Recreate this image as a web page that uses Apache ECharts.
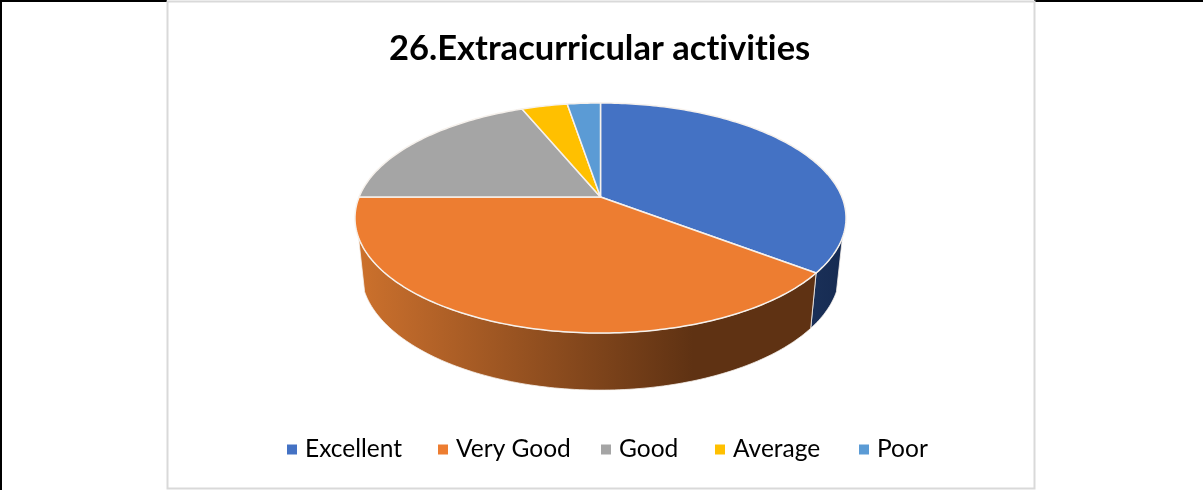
<!DOCTYPE html>
<html>
<head>
<meta charset="utf-8">
<style>html,body{margin:0;padding:0;background:#fff}#c{width:1203px;height:490px}</style>
<script src="https://cdn.jsdelivr.net/npm/echarts@6/dist/echarts.min.js"></script>
</head>
<body>
<div id="c"></div>
<script>
const categories = ['Excellent', 'Very Good', 'Good', 'Average', 'Poor'];
const values = [35.4, 39.6, 18.8, 3.6, 2.6];
const colors = ['#4472C4', '#ED7D31', '#A5A5A5', '#FFC000', '#5B9BD5'];
const legendLefts = [282, 433, 596, 710, 854];

const total = values.reduce((a, b) => a + b, 0);
const view = { cx: 600.5, cy: 197, rx: 241.4, ry: 111.2, k: -0.1826, floorY: 250, floorSx: 0.975, floorSy: 1.03 };
const wallLimit = { right: 110, left: 250 };

function topPoint(deg) {
  const t = deg * Math.PI / 180, u = Math.sin(t), v = -Math.cos(t), w = 1 + view.k * v;
  return [view.cx + view.rx * u / w, view.cy + view.ry * v / w];
}
function floorPoint(deg) {
  const p = topPoint(deg);
  return [view.cx + view.floorSx * (p[0] - view.cx), view.floorY + view.floorSy * (p[1] - view.cy)];
}
function arc(fn, a, b) {
  const pts = [], n = Math.max(2, Math.ceil(Math.abs(b - a)));
  for (let i = 0; i <= n; i++) pts.push(fn(a + (b - a) * i / n));
  return pts;
}
const wallFill = [
  { type: 'linear', x: 0, y: 0, x2: 1, y2: 0, colorStops: [{ offset: 0, color: '#1A3058' }, { offset: 1, color: '#162B52' }] },
  { type: 'linear', x: 0, y: 0, x2: 1, y2: 0, colorStops: [{ offset: 0, color: '#CC712C' }, { offset: 0.1, color: '#BD682A' }, { offset: 0.73, color: '#5F3213' }, { offset: 1, color: '#5F3213' }] }
];
function makeRender(idx) {
  return function (params, api) {
    const before = values.slice(0, idx).reduce((a, b) => a + b, 0);
    const a0 = before / total * 360;
    const a1 = a0 + api.value(0) / total * 360;
    const children = [{
      type: 'polygon', z2: 10,
      shape: { points: [[view.cx, view.cy]].concat(arc(topPoint, a0, a1)) },
      style: { fill: colors[idx], stroke: '#F6F1EC', lineWidth: 1.5, lineJoin: 'round' }
    }];
    if (idx < 2) {
      const wa = idx === 0 ? wallLimit.right : a0;
      const wb = idx === 1 ? wallLimit.left : a1;
      const top = arc(topPoint, wa, wb), floor = arc(floorPoint, wb, wa);
      children.unshift({
        type: 'polygon', z2: 1,
        shape: { points: top.concat(floor) },
        style: { fill: wallFill[idx], stroke: '#F6F1EC', lineWidth: 0.8 }
      });
    }
    return { type: 'group', children };
  };
}
const chart = echarts.init(document.getElementById('c'), null, { renderer: 'canvas' });
chart.setOption({
  animation: false,
  backgroundColor: '#fff',
  color: colors,
  title: {
    text: '26.Extracurricular activities', left: 384, top: 26,
    textStyle: { fontFamily: 'Lato', fontWeight: 'bold', fontSize: 34.5, color: '#000' }
  },
  legend: categories.map((name, i) => ({
    data: [name], left: legendLefts[i], top: 432, itemWidth: 10, itemHeight: 10, icon: 'rect',
    textStyle: { fontFamily: 'Lato', fontSize: 24.5, color: '#000', padding: [0, 0, 0, 3] }
  })),
  graphic: [
    { type: 'rect', shape: { x: 0, y: 0, width: 2, height: 490 }, style: { fill: '#000' } },
    { type: 'rect', shape: { x: 0, y: 0, width: 167, height: 2 }, style: { fill: '#000' } },
    { type: 'rect', shape: { x: 1034, y: 0, width: 169, height: 2 }, style: { fill: '#000' } },
    { type: 'rect', shape: { x: 167.5, y: 1.5, width: 867, height: 487 }, style: { fill: 'none', stroke: '#D9D9D9', lineWidth: 2 } }
  ],
  series: categories.map((name, i) => ({
    type: 'custom', name, coordinateSystem: 'none', itemStyle: { color: colors[i] },
    data: [[values[i]]], renderItem: makeRender(i)
  }))
});
const cv = document.querySelector('#c canvas');
if (cv) {
  const ctx = cv.getContext('2d');
  ctx.letterSpacing = '0.01px';
  chart.getZr().painter.refresh(true);
}
</script>
</body>
</html>
